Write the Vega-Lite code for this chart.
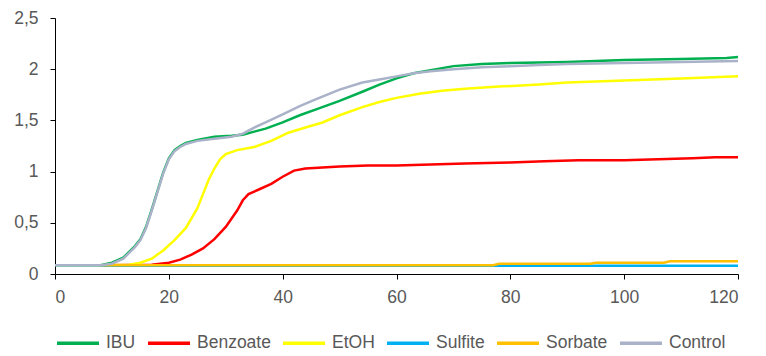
{
  "$schema": "https://vega.github.io/schema/vega-lite/v6.json",
  "width": 683,
  "height": 256,
  "autosize": "none",
  "padding": {"left": 55, "top": 18, "right": 28, "bottom": 82},
  "background": "white",
  "config": {
    "view": {"stroke": null},
    "font": "Liberation Sans",
    "axis": {"labelFont": "Liberation Sans", "labelColor": "#595959", "labelFontSize": 17.5, "domainColor": "#000000", "tickColor": "#000000", "grid": false, "title": null},
    "legend": {"labelFont": "Liberation Sans", "labelColor": "#595959", "labelFontSize": 17.5}
  },
  "datasets": {
    "d": [
      {"s": "IBU", "t": 0, "v": 0.085}, {"s": "IBU", "t": 8, "v": 0.085}, {"s": "IBU", "t": 10, "v": 0.11}, {"s": "IBU", "t": 12, "v": 0.16}, {"s": "IBU", "t": 14, "v": 0.27}, {"s": "IBU", "t": 15, "v": 0.34}, {"s": "IBU", "t": 16, "v": 0.46}, {"s": "IBU", "t": 17, "v": 0.63}, {"s": "IBU", "t": 18, "v": 0.81}, {"s": "IBU", "t": 19, "v": 0.99}, {"s": "IBU", "t": 20, "v": 1.13}, {"s": "IBU", "t": 21, "v": 1.21}, {"s": "IBU", "t": 22, "v": 1.25}, {"s": "IBU", "t": 23, "v": 1.28}, {"s": "IBU", "t": 25, "v": 1.31}, {"s": "IBU", "t": 28, "v": 1.34}, {"s": "IBU", "t": 31, "v": 1.35}, {"s": "IBU", "t": 33, "v": 1.36}, {"s": "IBU", "t": 35, "v": 1.39}, {"s": "IBU", "t": 37, "v": 1.42}, {"s": "IBU", "t": 40, "v": 1.48}, {"s": "IBU", "t": 43, "v": 1.55}, {"s": "IBU", "t": 46, "v": 1.61}, {"s": "IBU", "t": 50, "v": 1.69}, {"s": "IBU", "t": 54, "v": 1.78}, {"s": "IBU", "t": 57, "v": 1.85}, {"s": "IBU", "t": 60, "v": 1.91}, {"s": "IBU", "t": 63, "v": 1.96}, {"s": "IBU", "t": 66, "v": 1.99}, {"s": "IBU", "t": 70, "v": 2.03}, {"s": "IBU", "t": 75, "v": 2.05}, {"s": "IBU", "t": 80, "v": 2.06}, {"s": "IBU", "t": 90, "v": 2.07}, {"s": "IBU", "t": 100, "v": 2.09}, {"s": "IBU", "t": 110, "v": 2.1}, {"s": "IBU", "t": 118, "v": 2.11}, {"s": "IBU", "t": 120, "v": 2.12},
      {"s": "Benzoate", "t": 8, "v": 0.085}, {"s": "Benzoate", "t": 17, "v": 0.09}, {"s": "Benzoate", "t": 20, "v": 0.11}, {"s": "Benzoate", "t": 22, "v": 0.14}, {"s": "Benzoate", "t": 24, "v": 0.19}, {"s": "Benzoate", "t": 26, "v": 0.25}, {"s": "Benzoate", "t": 28, "v": 0.34}, {"s": "Benzoate", "t": 30, "v": 0.46}, {"s": "Benzoate", "t": 32, "v": 0.62}, {"s": "Benzoate", "t": 33, "v": 0.72}, {"s": "Benzoate", "t": 34, "v": 0.78}, {"s": "Benzoate", "t": 36, "v": 0.83}, {"s": "Benzoate", "t": 38, "v": 0.88}, {"s": "Benzoate", "t": 40, "v": 0.95}, {"s": "Benzoate", "t": 42, "v": 1.01}, {"s": "Benzoate", "t": 44, "v": 1.03}, {"s": "Benzoate", "t": 47, "v": 1.04}, {"s": "Benzoate", "t": 50, "v": 1.05}, {"s": "Benzoate", "t": 55, "v": 1.06}, {"s": "Benzoate", "t": 60, "v": 1.06}, {"s": "Benzoate", "t": 66, "v": 1.07}, {"s": "Benzoate", "t": 72, "v": 1.08}, {"s": "Benzoate", "t": 80, "v": 1.09}, {"s": "Benzoate", "t": 86, "v": 1.1}, {"s": "Benzoate", "t": 92, "v": 1.11}, {"s": "Benzoate", "t": 100, "v": 1.11}, {"s": "Benzoate", "t": 106, "v": 1.12}, {"s": "Benzoate", "t": 112, "v": 1.13}, {"s": "Benzoate", "t": 116, "v": 1.14}, {"s": "Benzoate", "t": 120, "v": 1.14},
      {"s": "EtOH", "t": 8, "v": 0.085}, {"s": "EtOH", "t": 13, "v": 0.09}, {"s": "EtOH", "t": 15, "v": 0.11}, {"s": "EtOH", "t": 17, "v": 0.15}, {"s": "EtOH", "t": 19, "v": 0.23}, {"s": "EtOH", "t": 21, "v": 0.33}, {"s": "EtOH", "t": 23, "v": 0.45}, {"s": "EtOH", "t": 25, "v": 0.64}, {"s": "EtOH", "t": 26, "v": 0.78}, {"s": "EtOH", "t": 27, "v": 0.92}, {"s": "EtOH", "t": 28, "v": 1.03}, {"s": "EtOH", "t": 29, "v": 1.12}, {"s": "EtOH", "t": 30, "v": 1.17}, {"s": "EtOH", "t": 32, "v": 1.21}, {"s": "EtOH", "t": 35, "v": 1.24}, {"s": "EtOH", "t": 38, "v": 1.3}, {"s": "EtOH", "t": 41, "v": 1.38}, {"s": "EtOH", "t": 44, "v": 1.43}, {"s": "EtOH", "t": 47, "v": 1.48}, {"s": "EtOH", "t": 50, "v": 1.55}, {"s": "EtOH", "t": 54, "v": 1.63}, {"s": "EtOH", "t": 57, "v": 1.68}, {"s": "EtOH", "t": 60, "v": 1.72}, {"s": "EtOH", "t": 64, "v": 1.76}, {"s": "EtOH", "t": 68, "v": 1.79}, {"s": "EtOH", "t": 72, "v": 1.81}, {"s": "EtOH", "t": 78, "v": 1.83}, {"s": "EtOH", "t": 85, "v": 1.85}, {"s": "EtOH", "t": 90, "v": 1.87}, {"s": "EtOH", "t": 100, "v": 1.89}, {"s": "EtOH", "t": 110, "v": 1.91}, {"s": "EtOH", "t": 120, "v": 1.93},
      {"s": "Sulfite", "t": 8, "v": 0.08}, {"s": "Sulfite", "t": 40, "v": 0.08}, {"s": "Sulfite", "t": 80, "v": 0.08}, {"s": "Sulfite", "t": 120, "v": 0.08},
      {"s": "Sorbate", "t": 8, "v": 0.085}, {"s": "Sorbate", "t": 77, "v": 0.085}, {"s": "Sorbate", "t": 78, "v": 0.1}, {"s": "Sorbate", "t": 94, "v": 0.1}, {"s": "Sorbate", "t": 95, "v": 0.11}, {"s": "Sorbate", "t": 107, "v": 0.11}, {"s": "Sorbate", "t": 108, "v": 0.125}, {"s": "Sorbate", "t": 120, "v": 0.125},
      {"s": "Control", "t": 0, "v": 0.085}, {"s": "Control", "t": 8, "v": 0.085}, {"s": "Control", "t": 10, "v": 0.1}, {"s": "Control", "t": 12, "v": 0.15}, {"s": "Control", "t": 14, "v": 0.26}, {"s": "Control", "t": 15, "v": 0.33}, {"s": "Control", "t": 16, "v": 0.45}, {"s": "Control", "t": 17, "v": 0.62}, {"s": "Control", "t": 18, "v": 0.8}, {"s": "Control", "t": 19, "v": 0.98}, {"s": "Control", "t": 20, "v": 1.12}, {"s": "Control", "t": 21, "v": 1.2}, {"s": "Control", "t": 22, "v": 1.24}, {"s": "Control", "t": 23, "v": 1.27}, {"s": "Control", "t": 25, "v": 1.3}, {"s": "Control", "t": 28, "v": 1.32}, {"s": "Control", "t": 31, "v": 1.34}, {"s": "Control", "t": 33, "v": 1.37}, {"s": "Control", "t": 35, "v": 1.43}, {"s": "Control", "t": 37, "v": 1.48}, {"s": "Control", "t": 40, "v": 1.56}, {"s": "Control", "t": 43, "v": 1.64}, {"s": "Control", "t": 46, "v": 1.71}, {"s": "Control", "t": 50, "v": 1.8}, {"s": "Control", "t": 54, "v": 1.87}, {"s": "Control", "t": 57, "v": 1.9}, {"s": "Control", "t": 60, "v": 1.93}, {"s": "Control", "t": 63, "v": 1.96}, {"s": "Control", "t": 66, "v": 1.98}, {"s": "Control", "t": 70, "v": 2.0}, {"s": "Control", "t": 75, "v": 2.02}, {"s": "Control", "t": 80, "v": 2.03}, {"s": "Control", "t": 85, "v": 2.04}, {"s": "Control", "t": 90, "v": 2.05}, {"s": "Control", "t": 100, "v": 2.06}, {"s": "Control", "t": 110, "v": 2.07}, {"s": "Control", "t": 120, "v": 2.08}
    ]
  },
  "data": {"name": "d"},
  "encoding": {
    "x": {"field": "t", "type": "quantitative", "scale": {"domain": [0, 120], "nice": false, "zero": false},
      "axis": {"values": [0, 20, 40, 60, 80, 100, 120], "tickSize": 5, "labelPadding": 9, "domainWidth": 1}},
    "y": {"field": "v", "type": "quantitative", "scale": {"domain": [0, 2.5], "nice": false},
      "axis": {"values": [0, 0.5, 1, 1.5, 2, 2.5], "tickSize": 5, "labelPadding": 12, "labelExpr": "replace(toString(datum.value), '.', ',')"}},
    "color": {"field": "s", "type": "nominal",
      "scale": {"domain": ["IBU", "Benzoate", "EtOH", "Sulfite", "Sorbate", "Control"], "range": ["#00B050", "#FF0000", "#FFFF00", "#00B0F0", "#FFC000", "#A9B2C8"]},
      "legend": {"title": null, "orient": "none", "legendX": 0, "legendY": 302, "direction": "horizontal", "symbolType": "stroke", "symbolSize": 1764, "symbolStrokeWidth": 3.5, "labelOffset": 5, "columnPadding": 5, "symbolOffset": 0, "padding": 0, "offset": 0}}
  },
  "layer": [
    {"transform": [{"filter": "datum.s === 'IBU'"}], "mark": {"type": "line", "strokeWidth": 2.5}},
    {"transform": [{"filter": "datum.s === 'Benzoate'"}], "mark": {"type": "line", "strokeWidth": 2.5}},
    {"transform": [{"filter": "datum.s === 'EtOH'"}], "mark": {"type": "line", "strokeWidth": 2.5}},
    {"transform": [{"filter": "datum.s === 'Sulfite'"}], "mark": {"type": "line", "strokeWidth": 2.5}},
    {"transform": [{"filter": "datum.s === 'Sorbate'"}], "mark": {"type": "line", "strokeWidth": 2.5}},
    {"transform": [{"filter": "datum.s === 'Control'"}], "mark": {"type": "line", "strokeWidth": 2.5}}
  ]
}
